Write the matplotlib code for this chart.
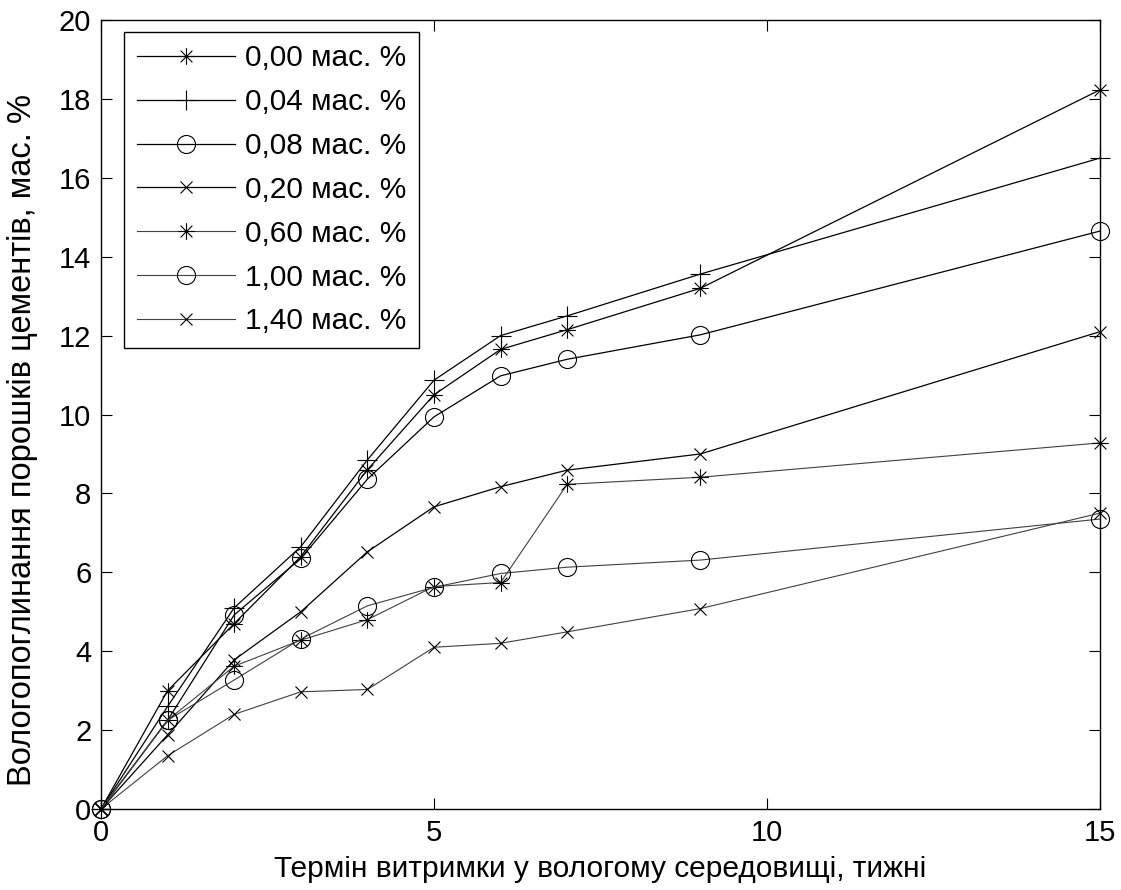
import matplotlib
matplotlib.use("Agg")
import matplotlib.pyplot as plt
from matplotlib.path import Path

plt.rcParams['font.family'] = ['Liberation Sans', 'DejaVu Sans']

weeks = [0, 1, 2, 3, 4, 5, 6, 7, 9, 15]
labels = ['0,00 мас. %', '0,04 мас. %', '0,08 мас. %', '0,20 мас. %',
          '0,60 мас. %', '1,00 мас. %', '1,40 мас. %']
s000 = [0, 3.0, 4.7, 6.4, 8.6, 10.5, 11.65, 12.15, 13.2, 18.23]
s004 = [0, 2.6, 5.1, 6.65, 8.85, 10.87, 12.0, 12.5, 13.56, 16.5]
s008 = [0, 2.25, 4.92, 6.35, 8.36, 9.94, 10.98, 11.4, 12.02, 14.65]
s020 = [0, 1.88, 3.78, 5.0, 6.52, 7.66, 8.17, 8.59, 9.0, 12.1]
s060 = [0, 2.25, 3.62, 4.28, 4.8, 5.64, 5.74, 8.23, 8.41, 9.28]
s100 = [0, 2.25, 3.27, 4.31, 5.15, 5.62, 5.97, 6.13, 6.31, 7.35]
s140 = [0, 1.35, 2.4, 2.97, 3.03, 4.1, 4.2, 4.49, 5.08, 7.5]
series = [s000, s004, s008, s020, s060, s100, s140]

d = 0.7071
ast = Path([(-1, 0), (1, 0), (0, -1), (0, 1), (-d, -d), (d, d), (-d, d), (d, -d)],
           [Path.MOVETO, Path.LINETO] * 4)
styles = [
    dict(marker=ast, ms=12, color='black', lw=0.9),
    dict(marker='+', ms=15, color='black', lw=0.9),
    dict(marker='o', ms=13, color='black', lw=0.9),
    dict(marker='x', ms=8, color='black', lw=0.9),
    dict(marker=ast, ms=12, color='#404040', lw=0.8),
    dict(marker='o', ms=13, color='#404040', lw=0.8),
    dict(marker='x', ms=8, color='#404040', lw=0.8),
]

fig = plt.figure(figsize=(11.21, 8.90), dpi=100)
ax = fig.add_axes([101/1121, 81/890, 999/1121, 789/890])
for vals, lab, st in zip(series, labels, styles):
    ax.plot(weeks, vals, label=lab, color=st['color'], lw=st['lw'],
            marker=st['marker'], ms=st['ms'], mfc='none', mec='black', mew=0.8,
            clip_on=False)

ax.set_xlim(0, 15)
ax.set_ylim(0, 20)
ax.set_xticks([0, 5, 10, 15])
ax.set_yticks(range(0, 21, 2))
ax.tick_params(direction='in', length=8, width=0.8, top=True, right=True,
               labelsize=21, pad=7)
for sp in ax.spines.values():
    sp.set_linewidth(1.0)
ax.set_xlabel('Термін витримки у вологому середовищі, тижні', fontsize=21.5, labelpad=6)
ax.set_ylabel('Вологопоглинання порошків цементів, мас. %', fontsize=23.5)
ax.yaxis.set_label_coords(-0.063, 0.468)

leg = ax.legend(loc='upper left', bbox_to_anchor=(0.023, 0.985), borderaxespad=0,
                fancybox=False, edgecolor='black', framealpha=1, fontsize=21.5,
                handlelength=3.3, handletextpad=0.33, labelspacing=0.53,
                borderpad=0.42)
leg.get_frame().set_linewidth(1.0)

fig.savefig('out.png', dpi=100)
